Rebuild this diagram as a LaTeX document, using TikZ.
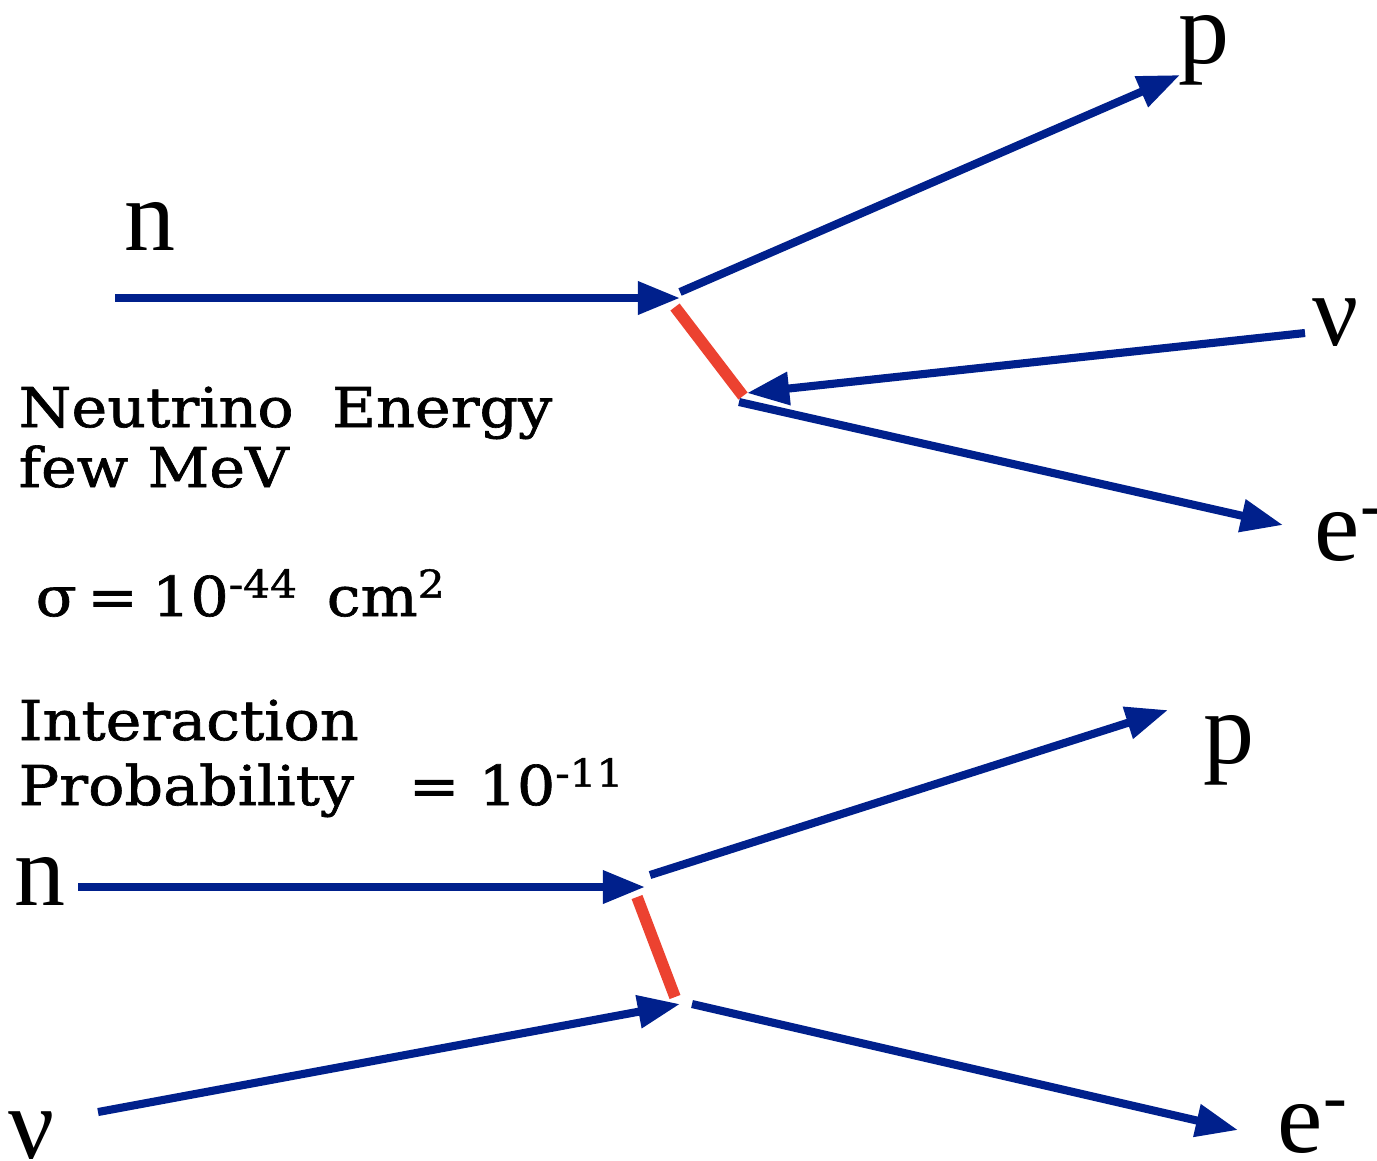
\documentclass[tikz,border=0pt]{standalone}
\usepackage{fontspec}
\setmainfont{DejaVu Serif}[FakeStretch=1.1,FakeBold=1.2]
\newfontfamily\labelfont{Liberation Serif}
\usetikzlibrary{arrows.meta}
\definecolor{lineblue}{RGB}{0,32,140}
\definecolor{propred}{RGB}{236,66,48}

\begin{document}
\begin{tikzpicture}[x=0.01cm,y=-0.01cm,
  particle/.style={-{Triangle[length=12pt,width=9pt]},line width=2.3pt,lineblue},
  exchange/.style={line width=3.3pt,propred},
  label/.style={font=\labelfont\fontsize{29}{32}\selectfont,inner sep=0pt},
  note/.style={font=\fontsize{15.6}{18}\selectfont,inner sep=0pt,anchor=base west}]
  \useasboundingbox (0,0) rectangle (1377,1160);

  % upper diagram
  \node[label,anchor=base] (nA) at (150,250) {n};
  \node[label,anchor=base] (pA) at (1204,63) {p};
  \node[label,anchor=base] (nuA) at (1336,345) {ν};
  \node[label,anchor=base west] (eA) at (1314,560) {e\textsuperscript{-}};
  \coordinate (nTailA) at (115,298);
  \coordinate (vtxA) at (680,298);
  \coordinate (pOutA) at (680,292);
  \coordinate (pTipA) at (1180,75);
  \coordinate (redTopA) at (675,307);
  \coordinate (redBotA) at (743,396);
  \coordinate (nuTailA) at (1305,333);
  \coordinate (vtxB) at (747,393);
  \coordinate (eOutA) at (739,402);
  \coordinate (eTipA) at (1283,525);

  \draw[particle] (nTailA) -- (vtxA);
  \draw[particle] (pOutA) -- (pTipA);
  \draw[exchange] (redTopA) -- (redBotA);
  \draw[particle] (nuTailA) -- (vtxB);
  \draw[particle] (eOutA) -- (eTipA);

  % text
  \node[note] (energy) at (18,427) {Neutrino\ \ Energy};
  \node[note] (mev) at (18,487) {few MeV};
  \node[note] (sigma) at (35,616) {σ\hspace{3pt}=\hspace{4pt}10\textsuperscript{-44}\hspace{8pt}cm\textsuperscript{2}};
  \node[note] (inter) at (18,740) {Interaction};
  \node[note] (prob) at (18,805) {Probability\quad= 10\textsuperscript{-11}};

  % lower diagram
  \node[label,anchor=base] (nB) at (40,905) {n};
  \node[label,anchor=base] (pB) at (1229,763) {p};
  \node[label,anchor=base] (nuB) at (32,1158) {ν};
  \node[label,anchor=base west] (eB) at (1277,1152) {e\textsuperscript{-}};
  \coordinate (nTailB) at (78,887);
  \coordinate (vtxC) at (645,887);
  \coordinate (pOutB) at (650,875);
  \coordinate (pTipB) at (1168,710);
  \coordinate (redTopB) at (637,897);
  \coordinate (redBotB) at (675,997);
  \coordinate (nuTailB) at (98,1112);
  \coordinate (vtxD) at (680,1004);
  \coordinate (eOutB) at (692,1004);
  \coordinate (eTipB) at (1238,1130);

  \draw[particle] (nTailB) -- (vtxC);
  \draw[particle] (pOutB) -- (pTipB);
  \draw[exchange] (redTopB) -- (redBotB);
  \draw[particle] (nuTailB) -- (vtxD);
  \draw[particle] (eOutB) -- (eTipB);
\end{tikzpicture}
\end{document}
